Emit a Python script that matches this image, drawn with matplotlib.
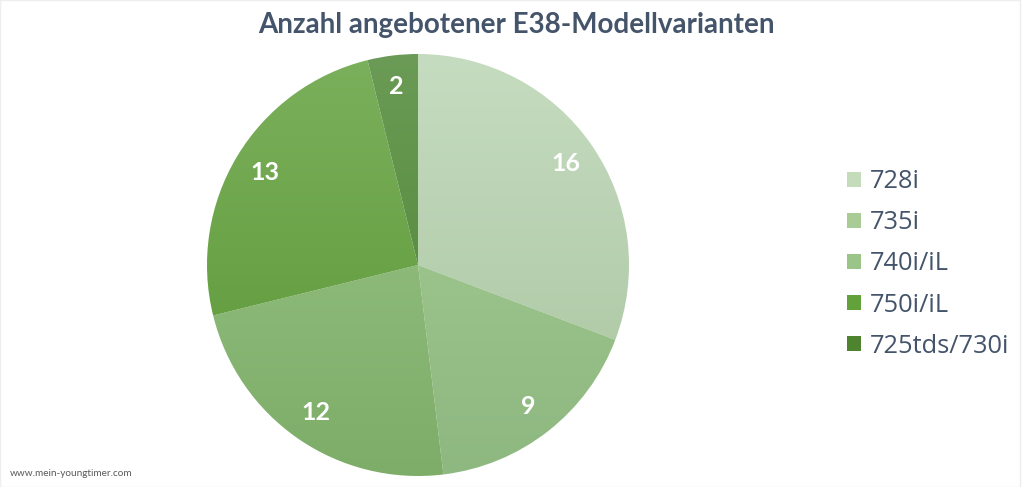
import numpy as np
import matplotlib.pyplot as plt
from matplotlib.colors import LinearSegmentedColormap
from matplotlib.patches import Rectangle

models = ['728i', '735i', '740i/iL', '750i/iL', '725tds/730i']
counts = [16, 9, 12, 13, 2]
# (top colour, bottom colour) of each slice's vertical gradient
top_colors = ['#c6dcc0', '#a9cd97', '#9cc68a', '#7bb05c', '#6b9b56']
bottom_colors = ['#a8c49f', '#8db880', '#7dad68', '#5a9634', '#4b8330']
legend_colors = ['#c5dcbb', '#a9cc97', '#9ac488', '#63a23a', '#4e8430']

title_color = '#44546a'
plt.rcParams['font.family'] = ['Lato', 'DejaVu Sans']

fig = plt.figure(figsize=(10.24, 4.87), dpi=100)
W, H = 1024, 487
cx, cy, r = 418, 265, 211
ax = fig.add_axes([(cx - r) / W, (H - cy - r) / H, 2 * r / W, 2 * r / H])

total = sum(counts)
wedges, texts, autotexts = ax.pie(
    counts, startangle=90, counterclock=False, radius=1,
    autopct=lambda p: f'{round(p * total / 100)}', pctdistance=0.85,
    textprops=dict(color='white', fontsize=18, fontweight='bold'),
    wedgeprops=dict(linewidth=0))

grad = np.linspace(0, 1, 256).reshape(-1, 1)
for w, c0, c1 in zip(wedges, top_colors, bottom_colors):
    w.set_facecolor('none')
    cmap = LinearSegmentedColormap.from_list('g', [c0, c1])
    im = ax.imshow(grad, cmap=cmap, extent=[-1, 1, -1, 1], origin='upper',
                   aspect='auto', zorder=0.5)
    im.set_clip_path(w)
for t in autotexts:
    t.set_zorder(3)

ax.set_xlim(-1, 1)
ax.set_ylim(-1, 1)
ax.set_aspect('auto')
ax.axis('off')

handles = [Rectangle((0, 0), 1, 1, facecolor=c, edgecolor='none') for c in legend_colors]
fig.legend(handles, models, loc='center left', bbox_to_anchor=(847 / W, 1 - 264 / H),
           frameon=False, prop=dict(family=['Open Sans', 'DejaVu Sans'], size=18.3),
           labelcolor=title_color, borderpad=0, borderaxespad=0,
           handlelength=0.55, handleheight=0.55, handletextpad=0.35,
           labelspacing=0.63)

fig.text(516 / W, 1 - 25 / H, 'Anzahl angebotener E38-Modellvarianten',
         ha='center', va='center', fontsize=20, fontweight='bold', color=title_color)
fig.text(10 / W, 1 - 473 / H, 'www.mein-youngtimer.com', ha='left', va='center',
         fontsize=7.2, color='#595959')

fig.patches.append(Rectangle((0, 0), 1020 / W, 1, transform=fig.transFigure,
                             fill=False, edgecolor='#eeeeee', linewidth=1))

fig.savefig('out.png', dpi=100, facecolor='white')
